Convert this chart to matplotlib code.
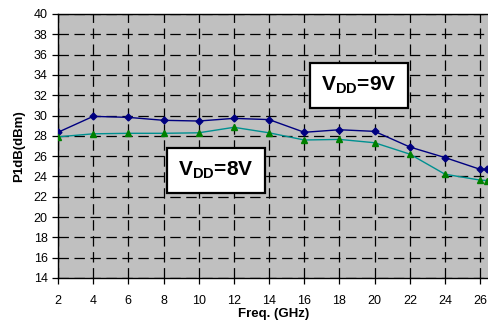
import matplotlib
matplotlib.use('Agg')
import matplotlib.pyplot as plt

plt.rcParams['font.family'] = ['Liberation Sans', 'DejaVu Sans']
plt.rcParams['mathtext.fontset'] = 'custom'
plt.rcParams['mathtext.rm'] = 'Liberation Sans'
plt.rcParams['mathtext.bf'] = 'Liberation Sans:bold'
plt.rcParams['lines.scale_dashes'] = False

# frequency points (GHz)
freq = [2, 4, 6, 8, 10, 12, 14, 16, 18, 20, 22, 24, 26, 26.4]
# P1dB at VDD = 9V
p1db_9v = [28.35, 29.92, 29.82, 29.53, 29.46, 29.72, 29.6, 28.35, 28.6, 28.44, 26.9, 25.86, 24.7, 24.7]
# P1dB at VDD = 8V
p1db_8v = [27.9, 28.2, 28.25, 28.25, 28.3, 28.84, 28.3, 27.59, 27.65, 27.32, 26.2, 24.22, 23.64, 23.6]

x_ticks = list(range(2, 27, 2))
y_ticks = list(range(14, 41, 2))

fig = plt.figure(figsize=(4.89, 3.22), dpi=100)
ax = fig.add_axes([58 / 489, 44 / 322, 431 / 489, 264 / 322])
ax.set_facecolor('#C0C0C0')

ax.plot(freq, p1db_9v, color='#000080', lw=1.0, marker='D', ms=3.5,
        mfc='#000080', mec='#000080', zorder=3)
ax.plot(freq, p1db_8v, color='#009090', lw=1.0, marker='^', ms=5,
        mfc='#008000', mec='#008000', zorder=3)

ax.set_xlim(2, 26.5)
ax.set_ylim(14, 40)
ax.set_xticks(x_ticks)
ax.set_yticks(y_ticks)
ax.grid(True, color='black', lw=0.9, linestyle=(0, (7.5, 4)))
ax.set_axisbelow(True)

ax.spines['right'].set_visible(False)
for side in ['left', 'bottom', 'top']:
    ax.spines[side].set_linewidth(1.0)

ax.tick_params(axis='x', direction='out', length=4, width=0.9, pad=8, labelsize=9)
ax.tick_params(axis='y', direction='out', length=4, width=0.9, pad=3.5, labelsize=9)

ax.set_xlabel('Freq. (GHz)', fontsize=9.5, fontweight='bold', labelpad=1)
ax.set_ylabel('P1dB(dBm)', fontsize=9.5, fontweight='bold', labelpad=6)

box = dict(boxstyle='square,pad=0.55', facecolor='white', edgecolor='black', lw=1.6)
ax.text(0.698, 0.729, r'V$_{\mathbf{DD}}$=9V', transform=ax.transAxes, fontsize=15,
        fontweight='bold', ha='center', va='center', bbox=box, zorder=4)
ax.text(0.367, 0.407, r'V$_{\mathbf{DD}}$=8V', transform=ax.transAxes, fontsize=15,
        fontweight='bold', ha='center', va='center', bbox=box, zorder=4)

fig.savefig('out.png', dpi=100)
